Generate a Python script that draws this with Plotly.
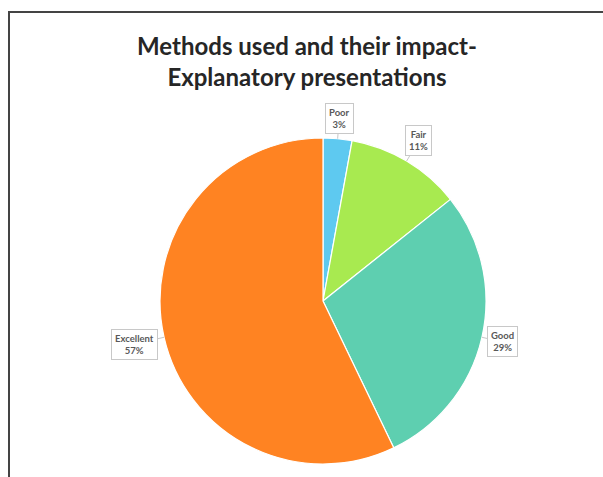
import math
import plotly.graph_objects as go

# Ratings and response counts
categories = ["Poor", "Fair", "Good", "Excellent"]
counts = [1, 4, 10, 20]
colors = ["#5EC9F0", "#A8EA50", "#5ECFB0", "#FF8322"]

W, H = 603, 477
CX, CY, R = 323, 301, 163  # pie centre and radius in pixels (top-left origin)

fig = go.Figure(go.Pie(
    labels=categories,
    values=counts,
    sort=False,
    direction="clockwise",
    rotation=0,
    textinfo="none",
    hoverinfo="label+percent",
    marker=dict(colors=colors, line=dict(color="white", width=1.2)),
    domain=dict(x=[(CX - R) / W, (CX + R) / W],
                y=[(H - CY - R) / H, (H - CY + R) / H]),
    showlegend=False,
))

# Callout boxes placed outside each slice along its mid angle
total = sum(counts)
cum = 0
annotations = []
for name, v in zip(categories, counts):
    pct = round(100 * v / total)
    mid = (cum + v / 2) / total * 2 * math.pi
    cum += v
    s, c = math.sin(mid), math.cos(mid)
    box_w = 8 + 4 * len(name)
    box_h = 25
    extent = abs(s) * box_w / 2 + abs(c) * box_h / 2
    d = 6.5 + extent
    tip_x, tip_y = CX + R * s, CY - R * c
    annotations.append(dict(
        x=tip_x / W, y=1 - tip_y / H, xref="paper", yref="paper",
        ax=d * s, ay=-d * c, axref="pixel", ayref="pixel",
        text=f"{name}<br>{pct}%",
        showarrow=True, arrowhead=0, arrowwidth=1, arrowcolor="#C8C8C8",
        standoff=0,
        font=dict(family="Lato", size=9.5, color="#595959", weight="bold"),
        bgcolor="white", bordercolor="#C8C8C8", borderwidth=1, borderpad=3,
        align="center",
    ))

fig.update_layout(
    width=W, height=H,
    margin=dict(l=0, r=0, t=0, b=0),
    paper_bgcolor="white",
    title=dict(
        text="Methods used and their impact-<br>Explanatory presentations",
        x=307 / W, xanchor="center", y=1 - 55 / H, yanchor="middle",
        font=dict(family="Lato", size=24, color="#262626", weight="bold"),
    ),
    annotations=annotations,
    shapes=[dict(type="rect", xref="paper", yref="paper",
                 x0=9 / W, x1=1.05, y0=-0.05, y1=1 - 12 / H,
                 line=dict(color="#444444", width=2))],
)

fig.write_html("out.html")
